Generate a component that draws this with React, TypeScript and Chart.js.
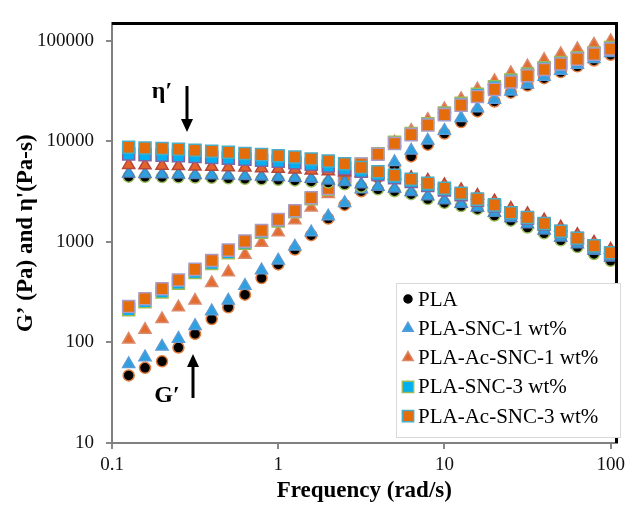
import { useEffect, useRef } from 'react';
import { Chart, registerables } from 'chart.js';
import { drawPoint } from 'chart.js/helpers';
Chart.register(...registerables);

// Angular frequency (rad/s)
const frequency = [0.126, 0.158, 0.2, 0.251, 0.316, 0.398, 0.501, 0.631, 0.794, 1, 1.26, 1.58, 2.0, 2.51, 3.16, 3.98, 5.01, 6.31, 7.94, 10, 12.6, 15.8, 20, 25.1, 31.6, 39.8, 50.1, 63.1, 79.4, 100];

const seriesNames = ['PLA', 'PLA-SNC-1 wt%', 'PLA-Ac-SNC-1 wt%', 'PLA-SNC-3 wt%', 'PLA-Ac-SNC-3 wt%'];

// Storage modulus G' (Pa)
const gPLA = [47, 56, 65, 89, 122, 171, 224, 299, 437, 598, 840, 1170, 1710, 2340, 3200, 4400, 5700, 7100, 9300, 12000, 15600, 19900, 25000, 30600, 36000, 42700, 49000, 56000, 64000, 73000];
const gSNC1 = [61, 71.5, 91, 109, 146, 205, 261, 366, 523, 655, 900, 1250, 1800, 2450, 3350, 4700, 6250, 8130, 10200, 12800, 17100, 21400, 26000, 31500, 37000, 44000, 50500, 58000, 66000, 76000];
const gAcSNC1 = [107, 134, 171, 224, 261, 391, 500, 748, 980, 1250, 1650, 2200, 3000, 4100, 5500, 7400, 9800, 12800, 16500, 21000, 26500, 33000, 40000, 48000, 56000, 65000, 74000, 83000, 92000, 100000];
const gSNC3 = [212, 254, 318, 389, 497, 610, 780, 970, 1250, 1620, 2000, 2700, 3350, 4450, 5950, 7550, 9800, 12000, 15000, 19200, 24000, 29500, 35000, 41000, 47000, 54000, 61000, 68000, 76000, 86000];
const gAcSNC3 = [228, 273, 342, 418, 534, 655, 830, 1020, 1300, 1670, 2050, 2760, 3400, 4500, 5980, 7480, 9550, 11700, 14600, 18500, 23000, 28000, 33000, 39000, 45000, 52000, 59000, 66000, 74000, 83000];

// Dynamic viscosity eta' (Pa-s)
const ePLA = [4470, 4450, 4430, 4400, 4380, 4350, 4300, 4250, 4200, 4150, 4100, 4000, 3900, 3750, 3550, 3340, 3200, 2990, 2670, 2450, 2280, 2120, 1830, 1630, 1390, 1220, 1040, 890, 760, 650];
const eSNC1 = [4790, 4750, 4720, 4700, 4650, 4620, 4580, 4530, 4480, 4420, 4350, 4250, 4100, 3950, 3750, 3550, 3400, 3150, 2850, 2600, 2400, 2200, 1950, 1730, 1500, 1300, 1110, 950, 820, 700];
const eAcSNC1 = [5850, 5800, 5750, 5700, 5650, 5600, 5550, 5500, 5420, 5350, 5250, 5150, 5050, 4950, 4850, 4750, 4600, 4350, 4100, 3700, 3300, 2900, 2550, 2150, 1900, 1650, 1400, 1180, 990, 840];
const eSNC3 = [7500, 7400, 7300, 7200, 7100, 6950, 6800, 6650, 6500, 6350, 6150, 5950, 5700, 5400, 5050, 4700, 4350, 4000, 3650, 3300, 2950, 2600, 2280, 1950, 1720, 1500, 1270, 1080, 910, 770];
const eAcSNC3 = [8750, 8600, 8500, 8350, 8200, 8000, 7800, 7600, 7400, 7200, 7000, 6700, 6400, 6000, 5500, 5000, 4600, 4200, 3830, 3420, 3050, 2670, 2340, 1950, 1750, 1530, 1280, 1090, 915, 780];

const xTicks = [0.1, 1, 10, 100];
const yTicks = [10, 100, 1000, 10000, 100000];

const SERIF = '"Liberation Serif", "Times New Roman", serif';

const toPts = (ys: number[]) => frequency.map((x, i) => ({ x, y: ys[i] }));

const legendStyles = [
  { pointStyle: 'circle', radius: 4, fill: '#000000', border: '#000000' },
  { pointStyle: 'triangle', radius: 6, fill: '#2DA0E0', border: '#5B9BD5' },
  { pointStyle: 'triangle', radius: 6, fill: '#E2622C', border: '#D9886A' },
  { pointStyle: 'rect', radius: 8, fill: '#00B0F0', border: '#9BBB59' },
  { pointStyle: 'rect', radius: 8, fill: '#E46C0A', border: '#4BACC6' },
];

const overlay = {
  id: 'overlay',
  afterDraw(chart: any) {
    const { ctx, chartArea } = chart;
    const { left, right, top, bottom } = chartArea;
    ctx.save();
    // black frame (top and right)
    ctx.strokeStyle = '#000';
    ctx.lineWidth = 3;
    ctx.beginPath();
    ctx.moveTo(left, top);
    ctx.lineTo(right, top);
    ctx.lineTo(right, bottom);
    ctx.stroke();

    // legend box
    const lx = 396, ly = 283, lw = 224, lh = 154;
    ctx.fillStyle = '#fff';
    ctx.fillRect(lx, ly, lw, lh);
    ctx.strokeStyle = '#d9d9d9';
    ctx.lineWidth = 1;
    ctx.strokeRect(lx + 0.5, ly + 0.5, lw, lh);
    ctx.font = `21px ${SERIF}`;
    ctx.textBaseline = 'middle';
    ctx.textAlign = 'left';
    seriesNames.forEach((name, i) => {
      const y = ly + 16 + i * 29.3;
      const st = legendStyles[i];
      ctx.fillStyle = st.fill;
      ctx.strokeStyle = st.border;
      ctx.lineWidth = 1.5;
      drawPoint(ctx, { pointStyle: st.pointStyle, radius: st.radius, rotation: 0, borderWidth: 1.5 }, 408, y);
      ctx.fillStyle = '#000';
      ctx.fillText(name, 418, y + 1);
    });

    // annotations
    ctx.fillStyle = '#000';
    ctx.font = `bold 24px ${SERIF}`;
    ctx.textAlign = 'center';
    ctx.fillText('η′', 162, 92);
    ctx.fillText('G′', 167, 396);

    const arrow = (x: number, y1: number, y2: number) => {
      const dir = y2 > y1 ? 1 : -1;
      ctx.strokeStyle = '#000';
      ctx.lineWidth = 3;
      ctx.beginPath();
      ctx.moveTo(x, y1);
      ctx.lineTo(x, y2 - dir * 10);
      ctx.stroke();
      ctx.beginPath();
      ctx.moveTo(x, y2);
      ctx.lineTo(x - 6, y2 - dir * 13);
      ctx.lineTo(x + 6, y2 - dir * 13);
      ctx.closePath();
      ctx.fill();
    };
    arrow(187, 86, 132);
    arrow(193, 398, 354);
    ctx.restore();
  },
};

export default function App() {
  const ref = useRef<HTMLCanvasElement>(null);
  useEffect(() => {
    document.body.style.margin = '0';
    document.body.style.background = '#fff';
    const mk = (label: string, ys: number[], style: string, radius: number, fill: string, border: string, order: number) => ({
      label,
      data: toPts(ys),
      pointStyle: style,
      pointRadius: radius,
      pointBackgroundColor: fill,
      pointBorderColor: border,
      pointBorderWidth: 1.5,
      showLine: false,
      order,
    });
    const datasets = [
      mk('PLA G′', gPLA, 'circle', 5.5, '#000000', '#E07B39', 10),
      mk('PLA-SNC-1 wt% G′', gSNC1, 'triangle', 7, '#2DA0E0', '#5B9BD5', 9),
      mk('PLA-Ac-SNC-1 wt% G′', gAcSNC1, 'triangle', 7, '#E46C2E', '#D9886A', 8),
      mk('PLA-SNC-3 wt% G′', gSNC3, 'rect', 8.5, '#00B0F0', '#9BBB59', 7),
      mk('PLA-Ac-SNC-3 wt% G′', gAcSNC3, 'rect', 8.5, '#E46C0A', '#A99BC6', 6),
      mk('PLA η′', ePLA, 'circle', 5.5, '#000000', '#9BBB59', 5),
      mk('PLA-SNC-1 wt% η′', eSNC1, 'triangle', 7, '#2DA0E0', '#4F81BD', 4),
      mk('PLA-Ac-SNC-1 wt% η′', eAcSNC1, 'triangle', 7, '#E2622C', '#B5473A', 3),
      mk('PLA-SNC-3 wt% η′', eSNC3, 'rect', 8.5, '#00B0F0', '#8064A2', 2),
      mk('PLA-Ac-SNC-3 wt% η′', eAcSNC3, 'rect', 8.5, '#E46C0A', '#4BACC6', 1),
    ];
    const chart = new Chart(ref.current!, {
      type: 'scatter',
      data: { datasets: datasets as any },
      options: {
        responsive: false,
        animation: false,
        layout: { padding: { top: 13, right: 7, left: 0, bottom: 0 } },
        plugins: { legend: { display: false }, tooltip: { enabled: false } },
        scales: {
          x: {
            type: 'logarithmic',
            min: 0.1,
            max: 108.5,
            afterBuildTicks: (s: any) => { s.ticks = xTicks.map((v) => ({ value: v })); },
            afterFit: (s: any) => { s.height = 64; },
            ticks: {
              font: { family: SERIF, size: 19 },
              color: '#111',
              padding: 5,
              maxRotation: 0,
              callback: (v: any) => String(v),
            },
            grid: { drawOnChartArea: false, drawTicks: true, tickLength: 6, color: '#888', lineWidth: 2 },
            border: { display: true, color: '#808080', width: 2 },
            title: {
              display: true,
              text: 'Frequency (rad/s)',
              font: { family: SERIF, size: 23, weight: 'bold' },
              color: '#000',
              padding: { top: 0, bottom: 2 },
            },
          },
          y: {
            type: 'logarithmic',
            min: 10,
            max: 149600,
            afterBuildTicks: (s: any) => { s.ticks = yTicks.map((v) => ({ value: v })); },
            afterFit: (s: any) => { s.width = 112; },
            ticks: {
              font: { family: SERIF, size: 19 },
              color: '#111',
              padding: 12,
              callback: (v: any) => String(v),
            },
            grid: { drawOnChartArea: false, drawTicks: true, tickLength: 6, color: '#888', lineWidth: 2 },
            border: { display: true, color: '#808080', width: 2 },
            title: {
              display: true,
              text: 'G’ (Pa) and η\'(Pa-s)',
              font: { family: SERIF, size: 23, weight: 'bold' },
              color: '#000',
              padding: { top: 12, bottom: 0 },
            },
          },
        },
      },
      plugins: [overlay],
    });
    return () => chart.destroy();
  }, []);
  return <canvas ref={ref} width={630} height={507} style={{ display: 'block' }} />;
}
